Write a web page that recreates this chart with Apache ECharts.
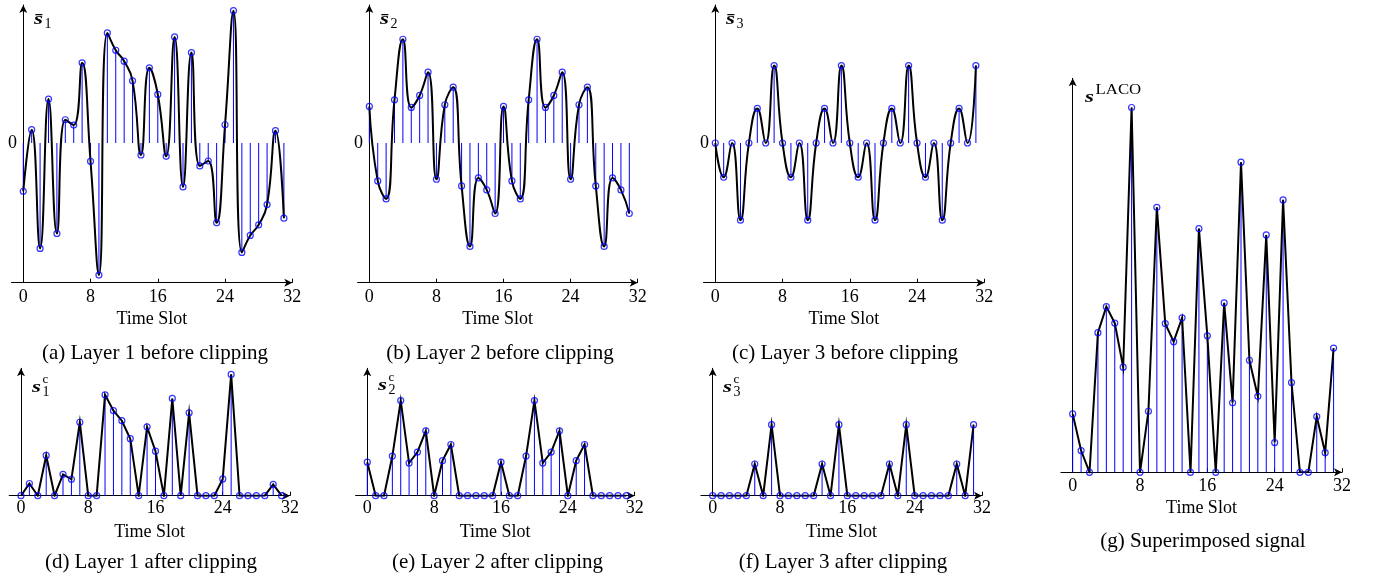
<!DOCTYPE html>
<html><head><meta charset="utf-8">
<script src="https://cdn.jsdelivr.net/npm/echarts@6/dist/echarts.min.js"></script>
<style>html,body{margin:0;padding:0;background:#fff}#c{width:1376px;height:584px}</style>
</head><body><div id="c"></div><script>
// ---------- data ----------
const slots = [0,1,2,3,4,5,6,7,8,9,10,11,12,13,14,15,16,17,18,19,20,21,22,23,24,25,26,27,28,29,30,31];
const xTicks = [0,8,16,24,32];
const layer1 = [-1.45,0.40,-3.17,1.32,-2.72,0.70,0.54,2.41,-0.55,-3.97,3.31,2.79,2.46,1.87,-0.36,2.26,1.46,-0.40,3.19,-1.32,2.72,-0.69,-0.54,-2.40,0.55,3.98,-3.29,-2.78,-2.46,-1.85,0.37,-2.26];
const layer2 = [1.10,-1.14,-1.68,1.30,3.12,1.07,1.43,2.13,-1.09,1.15,1.68,-1.29,-3.11,-1.05,-1.41,-2.12,1.10,-1.14,-1.68,1.30,3.12,1.07,1.43,2.13,-1.09,1.15,1.68,-1.29,-3.11,-1.05,-1.41,-2.12];
const layer3 = [0,-1.03,0,-2.32,0,1.04,0,2.33,0,-1.03,0,-2.32,0,1.04,0,2.33,0,-1.03,0,-2.32,0,1.04,0,2.33,0,-1.03,0,-2.32,0,1.04,0,2.33];
const clip1 = [0,0.40,0,1.32,0,0.70,0.54,2.41,0,0,3.31,2.79,2.46,1.87,0,2.26,1.46,0,3.19,0,2.72,0,0,0,0.55,3.98,0,0,0,0,0.37,0];
const clip2 = [1.10,0,0,1.30,3.12,1.07,1.43,2.13,0,1.15,1.68,0,0,0,0,0,1.10,0,0,1.30,3.12,1.07,1.43,2.13,0,1.15,1.68,0,0,0,0,0];
const clip3 = [0,0,0,0,0,1.04,0,2.33,0,0,0,0,0,1.04,0,2.33,0,0,0,0,0,1.04,0,2.33,0,0,0,0,0,1.04,0,2.33];
const laco = [1.10,0.41,0,2.63,3.12,2.81,1.98,6.87,0,1.15,4.99,2.80,2.46,2.91,0,4.59,2.57,0,3.19,1.31,5.84,2.11,1.43,4.47,0.56,5.13,1.69,0,0,1.05,0.37,2.34];
const captions = ['(a) Layer 1 before clipping','(b) Layer 2 before clipping','(c) Layer 3 before clipping',
  '(d) Layer 1 after clipping','(e) Layer 2 after clipping','(f) Layer 3 after clipping','(g) Superimposed signal'];
const xName = 'Time Slot';

// ---------- layout ----------
const FONT = 'Liberation Serif';
const BLUE = '#0000ff';
const panels = [
  {d:layer1, top:true, g:[11.5,5,280.8,277.7], ymin:-4.2, ymax:4.15, lm:6, ng:28, cap:[155,353], t:{x:34,y:20,sub:'1',sup:null}},
  {d:layer2, top:true, g:[357.6,5,280.1,277.7], ymin:-4.2, ymax:4.15, lm:6, ng:28, cap:[500,353], t:{x:380,y:20,sub:'2',sup:null}},
  {d:layer3, top:true, g:[703.5,5,280.8,277.7], ymin:-4.2, ymax:4.15, lm:6, ng:28, cap:[845,353], t:{x:726,y:20,sub:'3',sup:null}},
  {d:clip1, top:false, g:[9.2,368.3,280.8,127.4], ymin:0, ymax:4.18, lm:4, ng:28, cap:[151,562.7], t:{x:32,y:388,sub:'1',sup:'c'}},
  {d:clip2, top:false, g:[355.6,368.3,279.1,127.4], ymin:0, ymax:4.18, lm:4, ng:28, cap:[497.5,562.7], t:{x:378,y:386,sub:'2',sup:'c'}},
  {d:clip3, top:false, g:[700.9,368.3,281.1,127.4], ymin:0, ymax:4.18, lm:4, ng:28, cap:[843,562.7], t:{x:723,y:388,sub:'3',sup:'c'}},
  {d:laco, top:false, g:[1060.9,78.3,281.1,394], ymin:0, ymax:7.42, lm:4.5, ng:26, cap:[1203,541.7], t:{x:1085,y:98,sub:null,sup:'LACO'}}
];

const chart = echarts.init(document.getElementById('c'), null, {renderer:'canvas'});
const grid=[], xAxis=[], yAxis=[], series=[], graphic=[];
panels.forEach((p,i)=>{
  grid.push({left:p.g[0], top:p.g[1], width:p.g[2], height:p.g[3], containLabel:false, outerBoundsMode:'none'});
  xAxis.push({type:'value', gridIndex:i, min:-1.4, max:32,
    axisLine:{onZero:false, lineStyle:{color:'#000', width:1}, symbol:['none','arrow'], symbolSize:[6,8]},
    axisTick:{show:true, inside:true, length:4, customValues:[8,16,24,32], lineStyle:{color:'#000', width:1}},
    axisLabel:{customValues:xTicks, formatter:v=>String(v), fontFamily:FONT, fontSize:18, color:'#000', margin:p.lm},
    splitLine:{show:false},
    name:xName, nameLocation:'middle', nameGap:p.ng, nameTextStyle:{fontFamily:FONT, fontSize:18, color:'#000'}});
  yAxis.push({type:'value', gridIndex:i, min:p.ymin, max:p.ymax,
    axisLine:{show:true, onZero:true, lineStyle:{color:'#000', width:1}, symbol:['none','arrow'], symbolSize:[6,8]},
    axisTick:{show:false},
    axisLabel:{show:p.top, customValues:[0], formatter:v=>String(v), fontFamily:FONT, fontSize:18, color:'#000', margin:-5.5},
    splitLine:{show:false}});
  const pts = slots.map((s,k)=>[s, p.d[k]]);
  series.push({type:'custom', xAxisIndex:i, yAxisIndex:i, data:pts, z:2, silent:true,
    renderItem:(params, api)=>{
      const x=api.value(0), y=api.value(1);
      const a=api.coord([x,0]), b=api.coord([x,y]);
      return {type:'line', shape:{x1:a[0],y1:a[1],x2:b[0],y2:b[1]}, style:{stroke:BLUE, lineWidth:1}};
    },
    markLine: p.top ? {silent:true, symbol:['none','none'], label:{show:false},
      lineStyle:{color:'#777', type:[7,4], width:1.5},
      data:[[{coord:[-0.45,0]},{coord:[32.3,0]}]]} : undefined
  });
  series.push({type:'line', xAxisIndex:i, yAxisIndex:i, data:pts, z:3, silent:true,
    smooth: p.top ? 0.5 : false, showSymbol:false,
    lineStyle:{color:'#000', width:2, join:'miter', miterLimit:10}});
  series.push({type:'scatter', xAxisIndex:i, yAxisIndex:i, data:pts, z:4, silent:true,
    symbol:'circle', symbolSize:6,
    itemStyle:{color:'rgba(0,0,0,0)', borderColor:BLUE, borderWidth:1.2}});
  // caption
  graphic.push({type:'text', x:p.cap[0], y:p.cap[1], style:{text:captions[i], font:'21px "'+FONT+'"', fill:'#000', align:'center', verticalAlign:'middle'}});
  // y title
  const t = p.t;
  graphic.push({type:'text', x:t.x, y:t.y, scaleX:1.35, style:{text: p.top ? 's\u0304' : 's', font:'italic bold 17px "'+FONT+'"', fill:'#000', align:'left', verticalAlign:'middle'}});
  if (t.sub) graphic.push({type:'text', x:t.x+10.5, y:t.y+4, style:{text:t.sub, font:'14px "'+FONT+'"', fill:'#000', align:'left', verticalAlign:'middle'}});
  if (t.sup) graphic.push({type:'text', x:t.x+10.5, y:t.y-8, scaleX: t.sup.length>1 ? 1.2 : 1, style:{text:t.sup, font:(t.sup.length>1?'14px':'13px')+' "'+FONT+'"', fill:'#000', align:'left', verticalAlign:'middle'}});
});
chart.setOption({animation:false, backgroundColor:'#fff', grid, xAxis, yAxis, series, graphic});
</script></body></html>
